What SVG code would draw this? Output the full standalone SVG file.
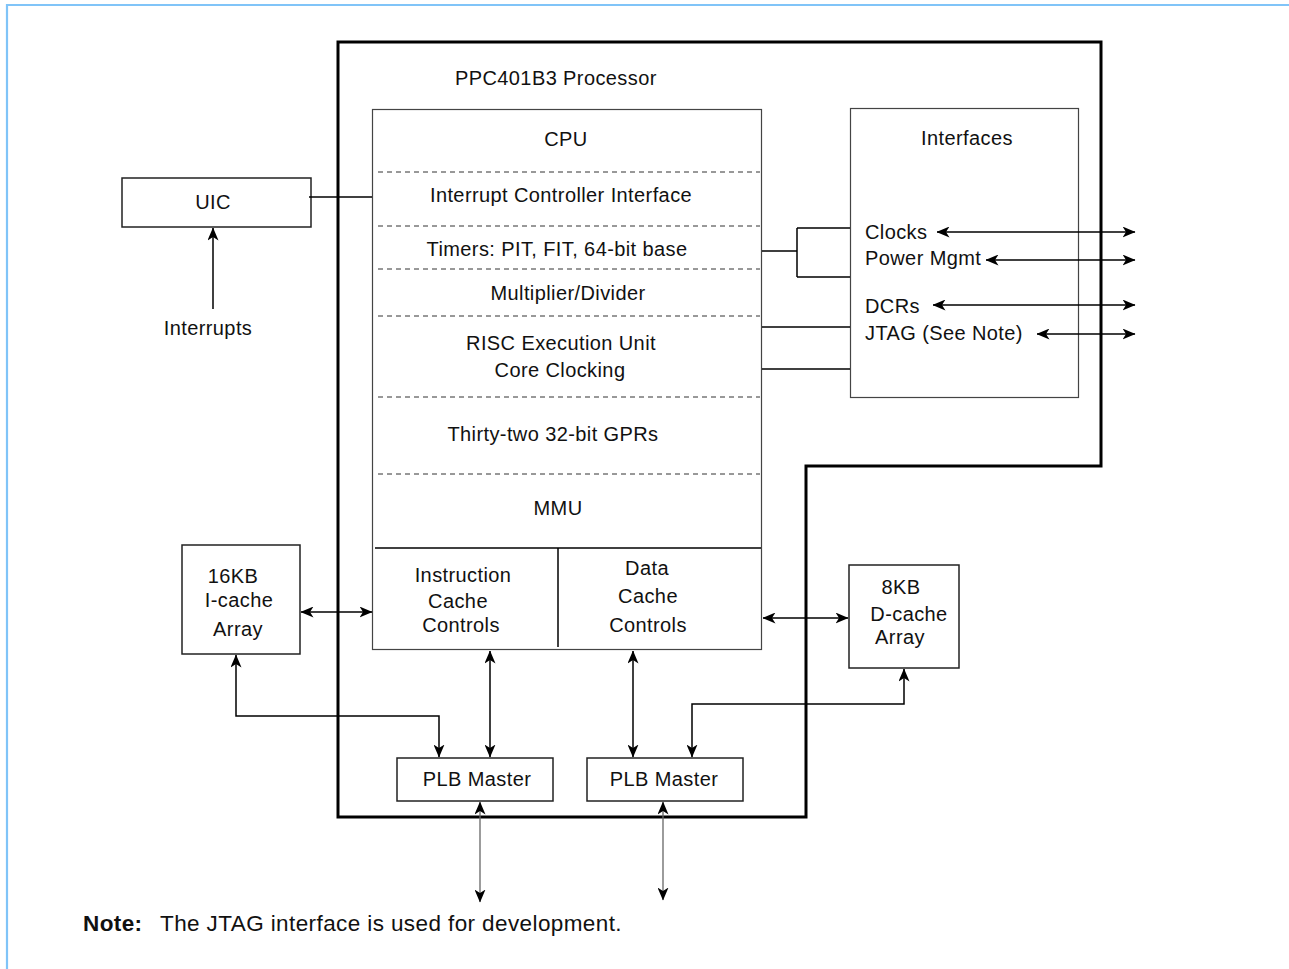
<svg xmlns="http://www.w3.org/2000/svg" width="1289" height="969" viewBox="0 0 1289 969">
<style>
.t{font-family:"Liberation Sans",Arial,sans-serif;font-size:20px;letter-spacing:0.4px;fill:#111}
.n{font-size:22.5px}
.m{text-anchor:middle}
.box{fill:#fff;stroke:#222;stroke-width:1.5}
.thin{fill:none;stroke:#444;stroke-width:1.2}
.dash{stroke:#333;stroke-width:1;stroke-dasharray:5,4;fill:none}
.c{fill:none;stroke:#000;stroke-width:1.5}
.cg{fill:none;stroke:#666;stroke-width:1.3}
.a{marker-start:url(#arr);marker-end:url(#arr)}
</style>
<defs>
<marker id="arr" viewBox="0 0 13 11" refX="12.5" refY="5.5" markerWidth="13" markerHeight="11" markerUnits="userSpaceOnUse" orient="auto-start-reverse">
<path d="M0,0 L13,5.5 L0,11 L3.5,5.5 Z" fill="#000"/>
</marker>
</defs>
<rect width="1289" height="969" fill="#fff"/>
<path d="M7,969 V5 H1289" fill="none" stroke="#80c4f8" stroke-width="2.2"/>

<g id="processor">
<path d="M338,42 H1101 V466 H806 V817 H338 Z" fill="none" stroke="#000" stroke-width="3"/>
<text class="t" x="455" y="85">PPC401B3 Processor</text>
</g>

<g id="cpu">
<rect class="thin" x="372.5" y="109.5" width="389" height="540"/>
<line class="dash" x1="378" y1="172" x2="760" y2="172"/>
<line class="dash" x1="378" y1="226" x2="760" y2="226"/>
<line class="dash" x1="378" y1="269" x2="760" y2="269"/>
<line class="dash" x1="378" y1="316" x2="760" y2="316"/>
<line class="dash" x1="378" y1="397" x2="760" y2="397"/>
<line class="dash" x1="378" y1="474" x2="760" y2="474"/>
<line x1="375" y1="548" x2="761" y2="548" stroke="#000" stroke-width="1.5"/>
<line x1="558" y1="548" x2="558" y2="647" stroke="#000" stroke-width="1.5"/>
<text class="t m" x="566" y="146">CPU</text>
<text class="t m" x="561" y="202">Interrupt Controller Interface</text>
<text class="t m" x="557" y="256">Timers: PIT, FIT, 64-bit base</text>
<text class="t m" x="568" y="300">Multiplier/Divider</text>
<text class="t m" x="561" y="350">RISC Execution Unit</text>
<text class="t m" x="560" y="377">Core Clocking</text>
<text class="t m" x="553" y="441">Thirty-two 32-bit GPRs</text>
<text class="t m" x="558" y="515">MMU</text>
<text class="t m" x="463" y="582">Instruction</text>
<text class="t m" x="458" y="608">Cache</text>
<text class="t m" x="461" y="632">Controls</text>
<text class="t m" x="647" y="575">Data</text>
<text class="t m" x="648" y="603">Cache</text>
<text class="t m" x="648" y="632">Controls</text>
</g>

<g id="interfaces">
<rect class="thin" x="850.5" y="108.5" width="228" height="289"/>
<text class="t m" x="967" y="145">Interfaces</text>
<text class="t" x="865" y="239">Clocks</text>
<text class="t" x="865" y="265">Power Mgmt</text>
<text class="t" x="865" y="313">DCRs</text>
<text class="t" x="865" y="340">JTAG (See Note)</text>
</g>

<g id="uic">
<rect class="box" x="122" y="178" width="189" height="49"/>
<text class="t m" x="213" y="209">UIC</text>
</g>
<g id="interrupts">
<text class="t m" x="208" y="335">Interrupts</text>
</g>

<g id="icache">
<rect class="box" x="182" y="545" width="118" height="109"/>
<text class="t m" x="233" y="583">16KB</text>
<text class="t m" x="239" y="607">I-cache</text>
<text class="t m" x="238" y="636">Array</text>
</g>

<g id="dcache">
<rect class="box" x="849" y="565" width="110" height="103"/>
<text class="t m" x="901" y="594">8KB</text>
<text class="t m" x="909" y="621">D-cache</text>
<text class="t m" x="900" y="644">Array</text>
</g>

<g id="plb1">
<rect class="box" x="397" y="758" width="156" height="43"/>
<text class="t m" x="477" y="786">PLB Master</text>
</g>
<g id="plb2">
<rect class="box" x="587" y="758" width="156" height="43"/>
<text class="t m" x="664" y="786">PLB Master</text>
</g>

<g id="connectors">
<path class="c" d="M309,197 H372"/>
<path class="c" d="M213,309 V228" marker-end="url(#arr)"/>
<path class="c" d="M762,251 H797 M797,228 V277 M797,228 H850 M797,277 H850"/>
<path class="c" d="M762,327 H850"/>
<path class="c" d="M762,369 H850"/>
<path class="c a" d="M937,232 H1135"/>
<path class="c a" d="M986,260 H1135"/>
<path class="c a" d="M933,305 H1135"/>
<path class="c a" d="M1037,334 H1135"/>
<path class="c a" d="M301,612 H372"/>
<path class="c a" d="M236,655 V716 H439 V757"/>
<path class="c a" d="M490,651 V757"/>
<path class="c a" d="M633,651 V757"/>
<path class="c a" d="M904,669 V704 H692 V757"/>
<path class="c a" d="M763,618 H848"/>
<path class="cg a" d="M480,802 V902"/>
<path class="cg a" d="M663,802 V900"/>
</g>

<g id="note">
<text class="t n" x="83" y="931"><tspan font-weight="bold">Note:</tspan><tspan x="160">The JTAG interface is used for development.</tspan></text>
</g>
</svg>
